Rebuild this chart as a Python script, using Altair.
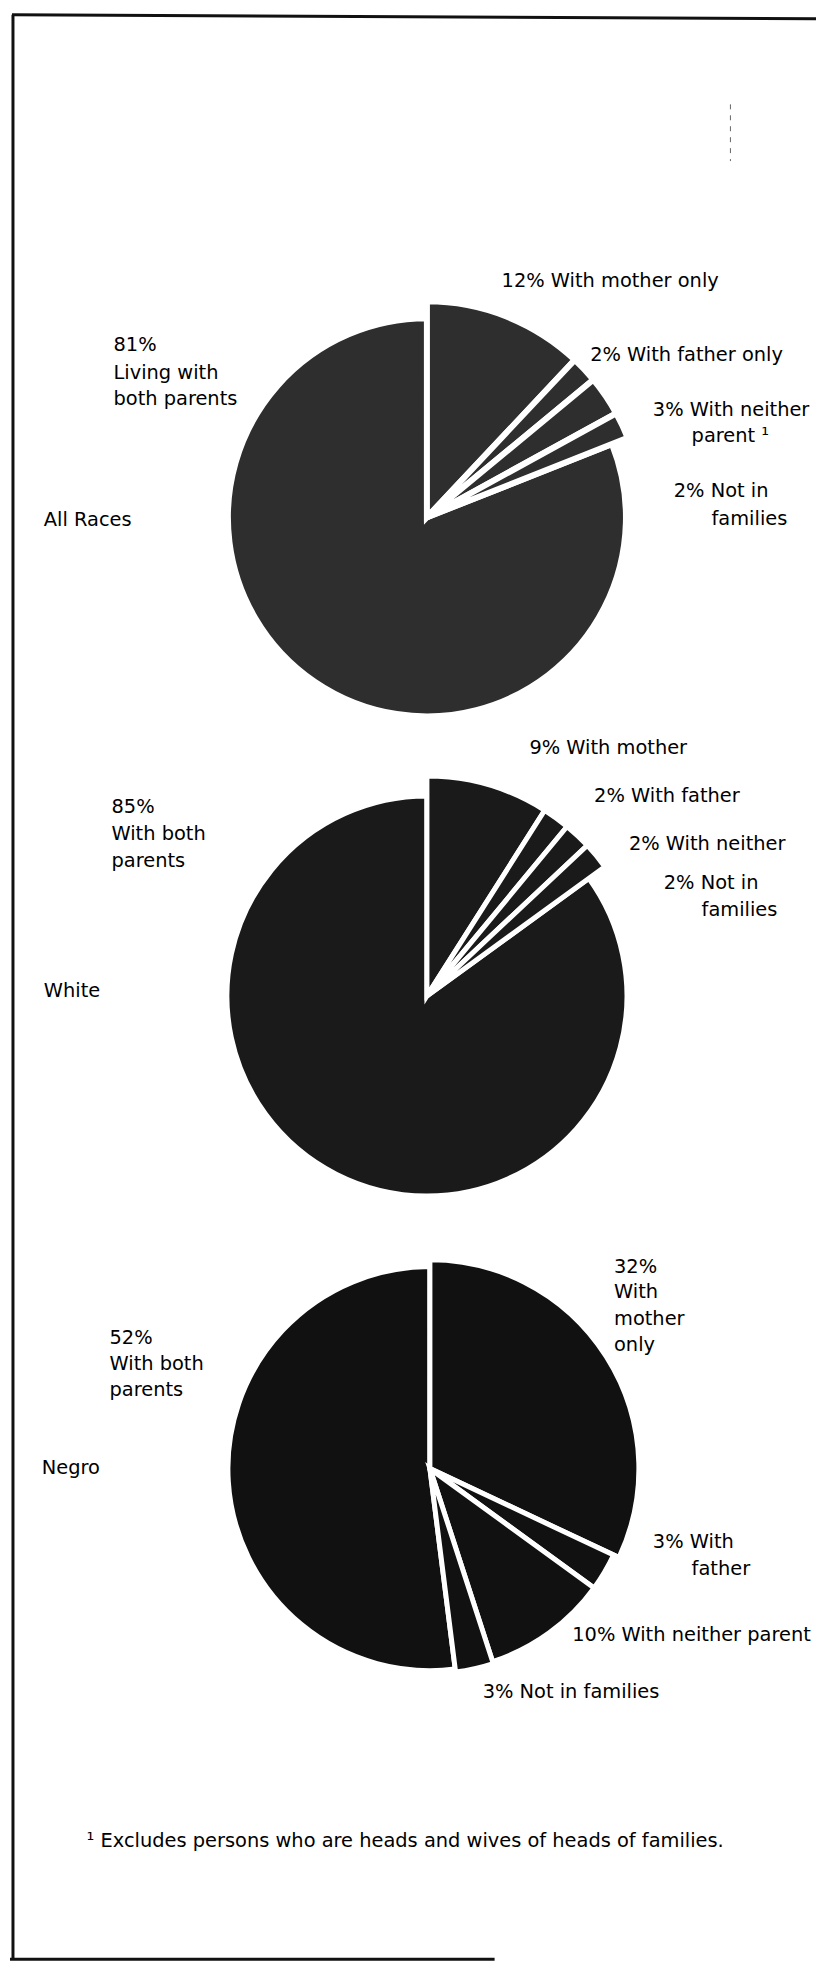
import math
import altair as alt
import pandas as pd

# ---------------- data ----------------
categories = ["With mother only", "With father only", "With neither parent",
              "Not in families", "With both parents"]
groups = ["All Races", "White", "Negro"]
all_races = [12, 2, 3, 2, 81]
white = [9, 2, 2, 2, 85]
negro = [32, 3, 10, 3, 52]
footnote = "\u00b9 Excludes persons who are heads and wives of heads of families."

rows = []
for g, vals in zip(groups, [all_races, white, negro]):
    for i, (c, v) in enumerate(zip(categories, vals)):
        rows.append({"group": g, "category": c, "order": i, "value": v})
pie_df = pd.DataFrame(rows)

# label lines (text built from the values above)
label_lines = [
    # All Races
    f"{all_races[0]}% With mother only", f"{all_races[1]}% With father only",
    f"{all_races[2]}% With neither", "parent \u00b9", f"{all_races[3]}% Not in", "families",
    f"{all_races[4]}%", "Living with", "both parents", groups[0],
    # White
    f"{white[0]}% With mother", f"{white[1]}% With father", f"{white[2]}% With neither",
    f"{white[3]}% Not in", "families",
    f"{white[4]}%", "With both", "parents", groups[1],
    # Negro
    f"{negro[0]}%", "With", "mother", "only",
    f"{negro[4]}%", "With both", "parents", groups[2],
    f"{negro[1]}% With", "father", f"{negro[2]}% With neither parent",
    f"{negro[3]}% Not in families",
    footnote,
]

# ---------------- layout (page pixel positions, not data) ----------------
OFF = 8  # page margin
label_pos = [
    (502, 278), (591, 352), (654, 407), (693, 433), (675, 489), (713, 517),
    (112, 342), (112, 370), (112, 396), (42, 518),
    (530, 747), (595, 795), (630, 843), (665, 883), (703, 910),
    (110, 806), (110, 833), (110, 860), (42, 991),
    (615, 1268), (615, 1294), (615, 1321), (615, 1347),
    (108, 1340), (108, 1366), (108, 1392), (40, 1470),
    (654, 1545), (693, 1572), (573, 1638),
    (483, 1696),
    (85, 1845),
]
text_df = pd.DataFrame({
    "text": label_lines,
    "x": [p[0] - OFF for p in label_pos],
    "y": [p[1] - OFF for p in label_pos],
})

pie_style = {
    "All Races": dict(cx=427, cy=515, r=[217, 217, 217, 217, 200], fill="#2e2e2e", gap=6),
    "White": dict(cx=427, cy=996, r=[221, 221, 221, 221, 201], fill="#1a1a1a", gap=5),
    "Negro": dict(cx=430, cy=1471, r=[210, 204, 204, 206, 203], fill="#111111", gap=5),
}

W, H = 810, 1958

theta_scale = alt.Scale(domain=[0, 100], range=[0, 2 * math.pi])

layers = []
for g in groups:
    st = pie_style[g]
    base = (
        alt.Chart(pie_df)
        .transform_filter(alt.datum.group == g)
        .transform_window(cum="sum(value)", sort=[alt.SortField("order")], frame=[None, 0])
        .transform_calculate(start="datum.cum - datum.value")
    )
    for i in [4, 0, 1, 2, 3]:
        layers.append(
            base.transform_filter(alt.datum.order == i)
            .mark_arc(
                x=st["cx"] - OFF, y=st["cy"] - OFF, radius=st["r"][i],
                fill=st["fill"], stroke="white", strokeWidth=st["gap"],
                strokeJoin="miter",
            )
            .encode(
                theta=alt.Theta("start:Q", scale=theta_scale),
                theta2="cum:Q",
                tooltip=["group:N", "category:N", "value:Q"],
            )
        )

text_layer = alt.Chart(text_df).mark_text(
    align="left", baseline="middle", font="DejaVu Sans", fontSize=19.5, color="#000000"
).encode(
    x=alt.X("x:Q", scale=None),
    y=alt.Y("y:Q", scale=None),
    text="text:N",
)

# frame lines of the scanned page
frame_df = pd.DataFrame({
    "x": [11 - OFF, 10 - OFF, 0],
    "x2": [11 - OFF, W, 495 - OFF],
    "y": [10 - OFF, 10 - OFF, H - 2],
    "y2": [H - 2, 14 - OFF, H - 2],
})
frame_layer = alt.Chart(frame_df).mark_rule(color="#111111", strokeWidth=3).encode(
    x=alt.X("x:Q", scale=None), x2="x2:Q",
    y=alt.Y("y:Q", scale=None), y2="y2:Q",
)

speck_df = pd.DataFrame({"x": [732 - OFF], "y": [100 - OFF], "y2": [157 - OFF]})
speck_layer = alt.Chart(speck_df).mark_rule(
    color="#666666", strokeWidth=1, strokeDash=[5, 6]
).encode(x=alt.X("x:Q", scale=None), y=alt.Y("y:Q", scale=None), y2="y2:Q")

chart = (
    alt.layer(*layers, text_layer, frame_layer, speck_layer)
    .properties(width=W, height=H, padding=0, background="white")
    .configure_view(stroke=None)
)

chart.save("out.html", embed_options={"renderer": "svg", "actions": False})
